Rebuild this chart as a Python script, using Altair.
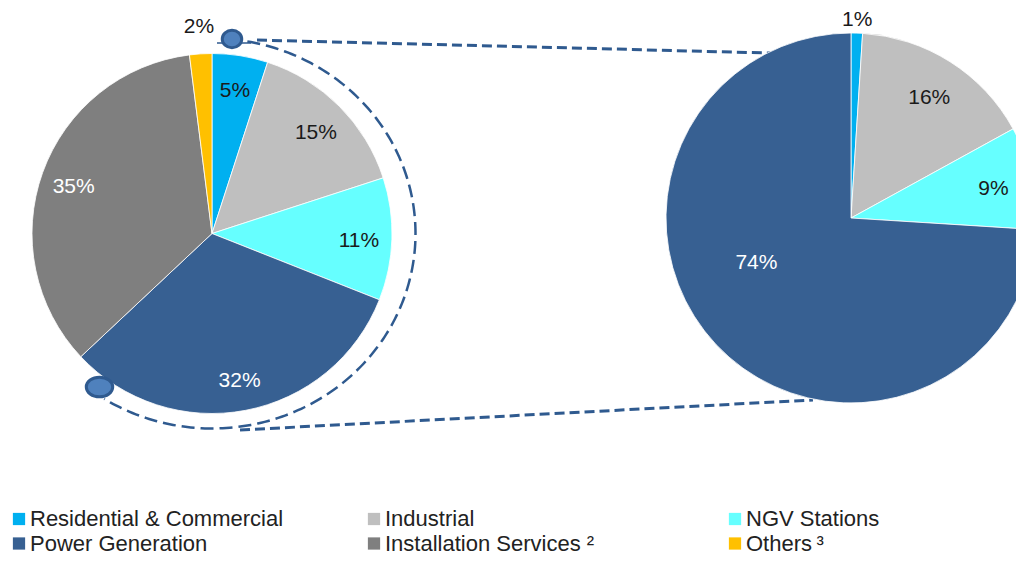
import altair as alt
import pandas as pd

# ---------------- data ----------------
categories = ["Residential & Commercial", "Industrial", "NGV Stations",
              "Power Generation", "Installation Services", "Others"]
colors = ["#00B0F0", "#BFBFBF", "#66FFFF", "#376092", "#7F7F7F", "#FFC000"]
left_values = [5, 15, 11, 32, 35, 2]
right_categories = ["Residential & Commercial", "Industrial", "NGV Stations", "Power Generation"]
right_values = [1, 16, 9, 74]
legend_labels = ["Residential & Commercial", "Industrial", "NGV Stations",
                 "Power Generation", "Installation Services \u00b2", "Others\u2009\u00b3"]

# ---------------- layout ----------------
W, H = 1008, 548
LCX, LCY, LR = 204, 225.5, 180
RCX, RCY, RR = 843, 210, 185
FONT = "Liberation Sans"
DARK = "#1a1a1a"
LINE = "#2F5A8F"

left_df = pd.DataFrame({"cat": categories, "value": left_values, "idx": range(len(left_values))})
right_df = pd.DataFrame({"cat": right_categories, "value": right_values, "idx": range(len(right_values))})
legend_df = pd.DataFrame({"cat": categories, "label": legend_labels, "idx": range(len(categories))})

color_scale = alt.Scale(domain=categories, range=colors)
white_test = "datum.cat == 'Power Generation' || datum.cat == 'Installation Services'"


def pie(df, cx, cy, r, lab_r, out_r, big_r=None, big_dx=0, big_dy=0):
    base = alt.Chart(df).transform_calculate(
        label="datum.value + '%'"
    ).encode(
        theta=alt.Theta("value:Q", stack=True),
        order=alt.Order("idx:Q"),
        x=alt.value(cx), y=alt.value(cy),
    )
    arcs = base.mark_arc(radius=r, stroke="#ffffff", strokeWidth=0.8).encode(
        color=alt.Color("cat:N", scale=color_scale, legend=None)
    )
    big_lim = 50 if big_r is not None else 101
    inner = base.mark_text(radius=lab_r, font=FONT, fontSize=21, dy=3).encode(
        text=alt.condition(f"datum.value >= 3 && datum.value < {big_lim}", "label:N", alt.value("")),
        color=alt.condition(white_test, alt.value("#ffffff"), alt.value(DARK)),
    )
    outer = base.mark_text(radius=out_r, font=FONT, fontSize=21, dy=1).encode(
        text=alt.condition("datum.value < 3", "label:N", alt.value("")),
        color=alt.value(DARK),
    )
    layers = [arcs, inner, outer]
    if big_r is not None:
        big = base.mark_text(radius=big_r, font=FONT, fontSize=21, dx=big_dx, dy=big_dy).encode(
            text=alt.condition(f"datum.value >= {big_lim}", "label:N", alt.value("")),
            color=alt.condition(white_test, alt.value("#ffffff"), alt.value(DARK)),
        )
        layers.append(big)
    return layers


left_layers = pie(left_df, LCX, LCY, LR, 147, 208)
right_layers = pie(right_df, RCX, RCY, RR, 146, 199, big_r=105, big_dx=-18, big_dy=-27)

# dashed bracket arc around left pie
arc_line = alt.Chart(alt.sequence(10, 213, 1, as_="t")).transform_calculate(
    px=f"{LCX} + 203.5*sin(datum.t*PI/180)",
    py=f"{LCY} - 195*cos(datum.t*PI/180)",
).mark_line(strokeDash=[13, 6], strokeWidth=2.5, color=LINE).encode(
    x=alt.X("px:Q", scale=None, axis=None),
    y=alt.Y("py:Q", scale=None, axis=None),
    order=alt.Order("t:Q"),
)

dummy = pd.DataFrame({"m": [0]})
conn_top = alt.Chart(dummy).mark_rule(strokeDash=[10, 5], strokeWidth=3, color=LINE).encode(
    x=alt.value(249), y=alt.value(32), x2=alt.value(762), y2=alt.value(45))
conn_bot = alt.Chart(dummy).mark_rule(strokeDash=[10, 5], strokeWidth=3, color=LINE).encode(
    x=alt.value(232), y=alt.value(422), x2=alt.value(805), y2=alt.value(392))
handle = alt.Chart(dummy).mark_rule(strokeWidth=1.5, color=LINE).encode(
    x=alt.value(209), y=alt.value(35), x2=alt.value(243), y2=alt.value(35))


def ellipse_path(b):
    k = 0.5523
    return (f"M-1,0C-1,{-k*b:.3f},{-k:.3f},{-b:.3f},0,{-b:.3f}"
            f"C{k:.3f},{-b:.3f},1,{-k*b:.3f},1,0"
            f"C1,{k*b:.3f},{k:.3f},{b:.3f},0,{b:.3f}"
            f"C{-k:.3f},{b:.3f},-1,{k*b:.3f},-1,0Z")


mk_top = alt.Chart(dummy).mark_point(shape=ellipse_path(0.9), size=380, filled=True,
                                     fill="#4F81BD", stroke=LINE, strokeWidth=3, opacity=1).encode(
    x=alt.value(224), y=alt.value(31))
mk_bot = alt.Chart(dummy).mark_point(shape=ellipse_path(0.74), size=700, filled=True,
                                     fill="#4F81BD", stroke=LINE, strokeWidth=3, opacity=1).encode(
    x=alt.value(91.5), y=alt.value(379))

# custom legend
leg_base = alt.Chart(legend_df).transform_calculate(
    lx="[11, 366, 727][datum.idx % 3]",
    ly="datum.idx < 3 ? 511 : 535.5",
).encode(
    x=alt.X("lx:Q", scale=None, axis=None),
    y=alt.Y("ly:Q", scale=None, axis=None),
)
leg_sq = leg_base.mark_square(size=150, filled=True, opacity=1).encode(
    color=alt.Color("cat:N", scale=color_scale, legend=None))
leg_tx = leg_base.mark_text(align="left", baseline="middle", dx=11, font=FONT,
                            fontSize=22, color="#222222").encode(text="label:N")

chart = alt.layer(
    conn_top, conn_bot, arc_line, handle,
    *left_layers, *right_layers,
    mk_top, mk_bot, leg_sq, leg_tx,
).properties(
    width=W, height=H,
    autosize=alt.AutoSizeParams(type="none"),
    padding=0,
).configure_view(strokeWidth=0)

chart.save("out.html", embed_options={"renderer": "svg", "actions": False})
